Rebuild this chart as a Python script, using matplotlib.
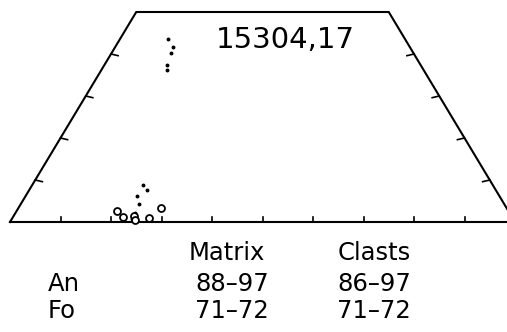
import numpy as np
import matplotlib
matplotlib.use("Agg")
import matplotlib.pyplot as plt

# pyroxene compositions (Fs, Wo)
dot_fs = [9.4, 11.4, 11.7, 12.3, 12.9, 22.0, 23.4, 22.1, 23.3, 23.8, 23.9]
dot_wo = [43.6, 41.7, 40.2, 37.4, 36.2, 8.8, 7.6, 6.2, 4.3, 2.1, 0.7]
circ_fs = [19.8, 21.7, 23.8, 24.6, 27.1, 28.2]
circ_wo = [2.6, 1.2, 1.4, 0.5, 1.0, 3.3]

sample = "15304,17"
col_heads = ["Matrix", "Clasts"]
row_heads = ["An", "Fo"]
ranges_matrix = ["88\u201397", "71\u201372"]
ranges_clasts = ["86\u201397", "71\u201372"]


def tri(fs, wo):
    fs = np.asarray(fs)
    wo = np.asarray(wo)
    return fs + wo / 2.0, wo


fig = plt.figure(figsize=(5.07, 3.32), dpi=100)
ax = fig.add_axes([0, 0, 1, 1])
ax.set_xlim(-10 / 5.05, 497 / 5.05)
ax.set_ylim((222 - 332) / 4.2, 222 / 4.2)
ax.axis("off")

# outline of the quadrilateral
ax.plot([0, 25, 75, 100, 0], [0, 50, 50, 0, 0], color="black", lw=1.5,
        solid_joinstyle="miter", clip_on=False)

# ticks on the base
for f in range(10, 100, 10):
    ax.plot([f, f], [0, 1.3], color="black", lw=1.2)
# ticks on the sides
for w in range(10, 50, 10):
    xl, yl = tri(0, w)
    ax.plot([xl, xl + 1.4], [yl, yl - 0.4], color="black", lw=1.2)
    xr, yr = tri(100 - w, w)
    ax.plot([xr, xr - 1.4], [yr, yr - 0.4], color="black", lw=1.2)

x, y = tri(dot_fs, dot_wo)
ax.plot(x, y, "o", ms=1.8, color="black", lw=0)
x, y = tri(circ_fs, circ_wo)
ax.plot(x, y, "o", ms=5, mfc="white", mec="black", mew=1.3, lw=0)

fig.text(285 / 507, 1 - 40 / 332, sample, fontsize=21, ha="center", va="center")

fs = 17.5
fig.text(227 / 507, 1 - 253 / 332, col_heads[0], fontsize=fs, ha="center", va="center")
fig.text(374 / 507, 1 - 253 / 332, col_heads[1], fontsize=fs, ha="center", va="center")
for i, (r, m, c) in enumerate(zip(row_heads, ranges_matrix, ranges_clasts)):
    yy = 1 - (284 + 27 * i) / 332
    fig.text(48 / 507, yy, r, fontsize=fs, ha="left", va="center")
    fig.text(232 / 507, yy, m, fontsize=fs, ha="center", va="center")
    fig.text(374 / 507, yy, c, fontsize=fs, ha="center", va="center")

fig.savefig("out.png", dpi=100)
